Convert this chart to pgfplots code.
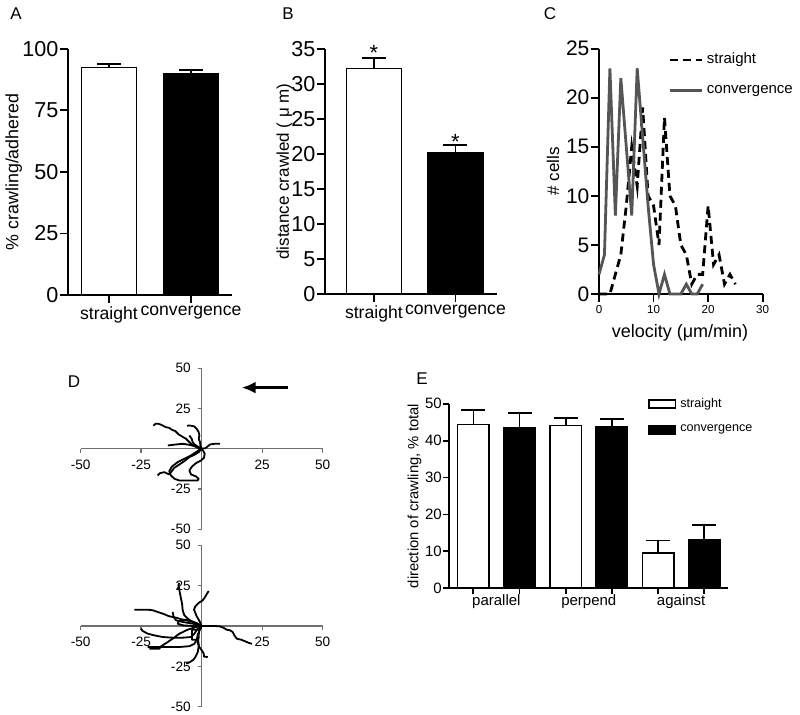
\documentclass[border=0pt]{standalone}
\usepackage{pgfplots}
\pgfplotsset{compat=1.18}
\usepackage{fontspec}
\setmainfont{Liberation Sans}
\usetikzlibrary{arrows.meta}
\definecolor{cgray}{HTML}{555555}
\definecolor{agray}{HTML}{707070}
\newcommand{\fs}[1]{\fontsize{#1}{#1}\selectfont}
\pgfplotsset{
  panel/.style={scale only axis, axis lines*=left,
    axis line style={line width=0.9pt,-},
    tick align=outside, major tick length=4pt,
    every tick/.style={black,line width=0.9pt},
    yticklabel style={inner sep=0.6pt}, xticklabel style={inner sep=1.5pt},
    /pgf/number format/assume math mode=true, clip=false},
  bar/.style={ybar, bar shift=0pt, draw=black, line width=0.8pt,
    error bars/y dir=plus, error bars/y explicit,
    error bars/error bar style={line width=0.8pt, black, solid},
    error bars/error mark=|,
    error bars/error mark options={mark size=6pt, line width=0.8pt, black}},
  track/.style={black, line width=0.9pt, no markers, line join=round},
  dpanel/.style={scale only axis, axis lines*=middle,
    axis line style={line width=0.7pt, agray, -},
    xmin=-50, xmax=50, ymin=-50, ymax=50,
    xtick={-50,-25,25,50}, ytick={-50,-25,25,50},
    tick align=outside, major tick length=2pt,
    every tick/.style={agray, line width=0.7pt},
    ticklabel style={font=\fs{6.8}},
    /pgf/number format/assume math mode=true, clip=false},
}
\begin{document}
\begin{tikzpicture}
\useasboundingbox (0,0) rectangle (400pt,-357.5pt);

% ---------- A ----------
\begin{axis}[panel, at={(34pt,-147.5pt)}, anchor=south west,
  width=82pt, height=123.15pt,
  xmin=-0.5, xmax=1.5, ymin=0, ymax=100,
  ytick={0,25,50,75,100}, xtick={0,1}, xticklabels={straight,convergence},
  yticklabel style={font=\fs{10.8}}, xticklabel style={font=\fs{8.8}},
  every axis y label/.style={at={(axis description cs:-0.33,0.5)}, rotate=90, anchor=center, font=\fs{8.9}},
  ylabel={\% crawling/adhered}]
\addplot[bar, fill=white, bar width=0.67] coordinates {(0,92.3) +- (0,1.6)};
\addplot[bar, fill=black, bar width=0.67] coordinates {(1,89.7) +- (0,1.7)};
\end{axis}
\node[font=\fs{8.5}] at (8pt,-7pt) {A};

% ---------- B ----------
\begin{axis}[panel, at={(162.5pt,-147pt)}, anchor=south west,
  width=86pt, height=122.5pt,
  xmin=-0.6, xmax=1.51, ymin=0, ymax=35,
  ytick={0,5,...,35}, xtick={0,1}, xticklabels={straight,convergence},
  yticklabel style={font=\fs{10.8}}, xticklabel style={font=\fs{8.8}},
  every axis y label/.style={at={(axis description cs:-0.235,0.5)}, rotate=90, anchor=center, font=\fs{8.5}},
  ylabel={distance crawled ( μ m)}]
\addplot[bar, fill=white, bar width=0.675] coordinates {(0,32.2) +- (0,1.55)};
\addplot[bar, fill=black, bar width=0.675] coordinates {(1,20.15) +- (0,1.1)};
\node[font=\fs{11}, anchor=base] at (axis cs:0,33.35) {*};
\node[font=\fs{11}, anchor=base] at (axis cs:1,20.65) {*};
\end{axis}
\node[font=\fs{8.5}] at (144pt,-7pt) {B};

% ---------- C ----------
\begin{axis}[panel, at={(299.5pt,-147pt)}, anchor=south west,
  width=81.85pt, height=122.65pt,
  xmin=0, xmax=30, ymin=0, ymax=25,
  xtick={0,10,20,30}, ytick={0,5,...,25},
  yticklabel style={font=\fs{10.5}}, xticklabel style={font=\fs{5.8}},
  every axis y label/.style={at={(axis description cs:-0.281,0.5)}, rotate=90, anchor=center, font=\fs{8.5}},
  every axis x label/.style={at={(axis description cs:0.495,-0.157)}, anchor=center, font=\fs{9}},
  ylabel={\# cells}, xlabel={velocity (μm/min)},
  legend style={at={(axis description cs:0.42,1.0)}, anchor=north west, draw=none, fill=none,
    font=\fs{7.5}, row sep=5pt, inner sep=0pt},
  legend image code/.code={\draw[#1] (0pt,0pt) -- (16pt,0pt);},
  legend cell align=left]
\addplot[black, line width=1.4pt, dash pattern=on 4pt off 2.5pt] coordinates {
(0,0) (1,0) (2,0) (3,2) (4,4) (5,9) (6,15) (7,11) (8,19) (9,10) (10,9) (11,5) (12,18)
(13,10) (14,9) (15,5) (16,4) (17,1) (18,2) (19,2) (20,9) (21,3) (22,4) (23,1) (24,2) (25,1)};
\addlegendentry{straight}
\addplot[cgray, line width=1.4pt] coordinates {
(0,2) (1,4) (2,23) (3,8) (4,22) (5,15) (6,8) (7,23) (8,16) (9,9) (10,3) (11,0) (12,2)
(13,0) (14,0) (15,0) (16,1) (17,0) (18,0) (19,1)};
\addlegendentry{convergence}
\end{axis}
\node[font=\fs{8.5}] at (275pt,-7pt) {C};

% ---------- D top ----------
\begin{axis}[dpanel, at={(40.35pt,-264.65pt)}, anchor=south west, width=121pt, height=80.5pt]
\addplot[track] coordinates {(0,0) (-1.65,0.62) (-3.72,2.28) (-5.1,4.14) (-6.47,6.21) (-8.13,7.66) (-9.5,8.9) (-10.9,11.0) (-12.3,11.8) (-13.4,13.0) (-15.0,13.5) (-16.4,14.7) (-17.8,15.5) (-19.1,15.5) (-20.0,14.3)};
\addplot[track] coordinates {(0,0) (-0.55,2.07) (-0.69,4.14) (-1.24,6.21) (-0.96,8.28) (-1.24,10.35) (-2.07,12.4) (-3.03,13.9) (-5.1,14.5) (-6.06,14.3)};
\addplot[track] coordinates {(0,0) (-1.65,1.45) (-3.03,2.69) (-3.72,4.14) (-4.13,6.21) (-4.82,7.66) (-5.1,8.28)};
\addplot[track] coordinates {(0,0) (-2.34,1.45) (-5.1,2.48) (-7.85,3.1) (-10.6,2.69) (-14.0,2.07)};
\addplot[track] coordinates {(0,0) (1.52,0.41) (2.48,1.45) (3.44,2.69) (5.23,3.1) (7.58,3.1)};
\addplot[track] coordinates {(0,0) (0.69,-1.45) (1.24,-3.1) (0.96,-5.59) (-0.28,-7.25) (-2.34,-8.9) (-4.0,-11.0) (-5.1,-13.5) (-4.41,-15.9) (-2.34,-17.2) (-1.24,-18.6) (-1.65,-19.7) (-5.1,-19.7) (-9.23,-19.7) (-11.3,-18.6) (-12.7,-16.6) (-13.4,-13.9) (-12.3,-11.0) (-9.9,-8.28) (-7.16,-6.21) (-4.41,-4.14) (-2.34,-2.07) (-0.96,-0.62) (0,0)};
\addplot[track] coordinates {(0,0) (-1.24,-2.07) (-3.03,-3.73) (-5.1,-5.18) (-7.16,-7.66) (-9.23,-9.73) (-11.3,-11.8) (-12.7,-14.5) (-13.6,-15.9) (-15.4,-14.5) (-17.2,-15.1) (-18.2,-16.6)};
\draw[line width=1.5pt, -{Latex[length=7pt,width=6pt]}] (axis cs:35.5,38) -- (axis cs:16.5,38);
\end{axis}
\node[font=\fs{8.5}] at (37pt,-191pt) {D};

% ---------- D bottom ----------
\begin{axis}[dpanel, at={(40.35pt,-353.35pt)}, anchor=south west, width=121pt, height=80.7pt]
\addplot[track] coordinates {(0,0) (-0.55,1.86) (-1.24,3.93) (-2.07,6.0) (-2.62,8.07) (-3.17,10.1) (-2.62,12.2) (-1.24,14.3) (0.41,15.9) (1.24,17.6) (2.07,19.7) (2.89,21.7)};
\addplot[track] coordinates {(0,0) (-1.65,0.83) (-3.72,2.48) (-5.79,4.55) (-7.16,6.63) (-7.85,9.73) (-8.13,13.9) (-8.68,18.0) (-9.23,22.2) (-9.64,25.3) (-9.23,26.7)};
\addplot[track] coordinates {(0,0) (-2.34,1.86) (-5.1,3.1) (-7.85,3.93) (-10.6,5.18) (-13.4,6.0) (-16.1,7.66) (-18.2,8.7) (-20.2,9.73) (-22.3,10.1) (-24.4,10.1) (-26.4,10.1) (-27.8,10.1)};
\addplot[track] coordinates {(0,0) (-3.72,1.45) (-7.85,2.48) (-10.6,3.52) (-11.6,5.59) (-12.0,8.7)};
\addplot[track] coordinates {(0,0) (-1.65,1.45) (-4.41,3.1) (-7.16,3.93) (-9.5,3.1) (-9.9,1.45) (-7.85,0.41) (-3.72,0) (0,0)};
\addplot[track] coordinates {(0,0) (2.48,0) (5.23,0) (7.3,-0.21) (8.95,-1.04) (10.3,-2.28) (11.7,-2.69) (12.8,-3.73) (13.5,-5.8) (14.5,-7.87) (16.3,-8.49) (18.0,-9.52) (19.7,-10.6) (20.8,-11.0)};
\addplot[track] coordinates {(0,0) (-1.65,-1.66) (-3.03,-4.76) (-4.41,-6.83) (-7.85,-7.25) (-12.0,-7.25) (-16.1,-6.83) (-19.6,-5.8) (-22.3,-4.76) (-24.4,-3.1) (-25.1,-1.66)};
\addplot[track] coordinates {(0,0) (-2.34,-0.62) (-5.79,-2.28) (-9.23,-4.76) (-12.0,-7.87) (-14.7,-10.6) (-16.8,-12.6) (-17.5,-14.1) (-19.6,-14.1) (-21.6,-14.1)};
\addplot[track] coordinates {(0,0) (-0.8,-2) (-1.5,-5) (-2,-8) (-3,-11) (-5,-12.5) (-9,-13) (-14,-13) (-19,-13) (-22.3,-13.1)};
\addplot[track] coordinates {(0,0) (-1.65,-2.3) (-4,-2.3) (-4,-8.5) (-1.65,-8.5) (-1.65,-5) (-1.2,-7) (-1.8,-10) (-1,-13) (0,-15) (0.8,-17) (1,-19) (2.5,-19.2)};
\addplot[track] coordinates {(0,0) (-1,-3) (-1.5,-8) (-1.2,-12) (-1.6,-16) (-2.5,-19) (-3.5,-21) (-5,-22.5) (-6.4,-23.3)};
\end{axis}

% ---------- E ----------
\begin{axis}[panel, at={(224.65pt,-294.15pt)}, anchor=south west,
  width=139.5pt, height=92.3pt,
  xmin=-0.52, xmax=5.52, ymin=0, ymax=50,
  ytick={0,10,...,50}, xtick={0,...,5}, xticklabels={},
  major tick length=3pt,
  extra x ticks={0.5,2.5,4.5}, extra x tick labels={parallel,perpend,against},
  extra x tick style={major tick length=0pt, xticklabel style={font=\fs{7.5}, inner sep=3pt}},
  yticklabel style={font=\fs{7.5}},
  every axis y label/.style={at={(axis description cs:-0.125,0.5)}, rotate=90, anchor=center, font=\fs{7.4}},
  ylabel={direction of crawling, \% total},
  legend style={at={(axis description cs:0.711,1.055)}, anchor=north west, draw=none, fill=none,
    font=\fs{6.3}, row sep=3.5pt, inner sep=0pt},
  legend image code/.code={\draw[#1] (0pt,-2.1pt) rectangle (13.3pt,2.1pt);},
  legend cell align=left]
\addplot[bar, fill=white, bar width=0.68, forget plot] coordinates {(0,44.4) +- (0,3.9) (2,44.1) +- (0,2.1) (4,9.5) +- (0,3.4)};
\addplot[bar, fill=black, bar width=0.68, forget plot] coordinates {(1,43.4) +- (0,4.0) (3,43.7) +- (0,2.1) (5,13.1) +- (0,4.0)};
\addlegendimage{draw=black, fill=white, line width=0.8pt}
\addlegendentry{straight}
\addlegendimage{draw=black, fill=black, line width=0.8pt}
\addlegendentry{convergence}
\end{axis}
\node[font=\fs{8.5}] at (211pt,-189.5pt) {E};
\end{tikzpicture}
\end{document}
